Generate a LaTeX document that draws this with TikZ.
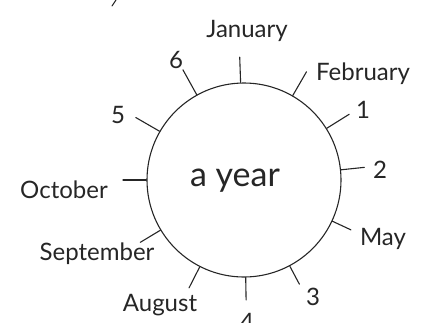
\documentclass[tikz,border=0pt]{standalone}
\usepackage{fontspec}
\setmainfont{Lato}
\begin{document}
\begin{tikzpicture}[x=1pt, y=-1pt, line width=1.1pt, draw=black!85,
  every node/.style={font=\fontsize{24}{26}\selectfont, text=black!85},
  tick/.style={line width=1.1pt, line cap=round}]
\useasboundingbox (0,0) rectangle (425,322);
% the year circle
\node[circle, draw, minimum size=194pt, inner sep=0pt] (yr) at (244,180) {};
\node[anchor=base, font=\fontsize{34}{36}\selectfont] (yrtxt) at (235,186) {a year};
% tick ends
\coordinate (tJan) at ([shift={(92:123pt)}]yr.center);
\coordinate (tFeb) at ([shift={(60:125pt)}]yr.center);
\coordinate (tOne) at ([shift={(32:124pt)}]yr.center);
\coordinate (tTwo) at ([shift={(6:121pt)}]yr.center);
\coordinate (tMay) at ([shift={(-25:118pt)}]yr.center);
\coordinate (tThree) at ([shift={(-62:118pt)}]yr.center);
\coordinate (tFour) at ([shift={(-89:120pt)}]yr.center);
\coordinate (tAug) at ([shift={(-117:121pt)}]yr.center);
\coordinate (tSep) at ([shift={(211:121pt)}]yr.center);
\coordinate (tOct) at ([shift={(180:121pt)}]yr.center);
\coordinate (tFive) at ([shift={(150:125pt)}]yr.center);
\coordinate (tSix) at ([shift={(119:126pt)}]yr.center);
% ticks
\draw[tick] (yr.92) -- (tJan);
\draw[tick] (yr.60) -- (tFeb);
\draw[tick] (yr.32) -- (tOne);
\draw[tick] (yr.6) -- (tTwo);
\draw[tick] (yr.-25) -- (tMay);
\draw[tick] (yr.-62) -- (tThree);
\draw[tick] (yr.-89) -- (tFour);
\draw[tick] (yr.-117) -- (tAug);
\draw[tick] (yr.211) -- (tSep);
\draw[tick] (yr.180) -- (tOct);
\draw[tick] (yr.150) -- (tFive);
\draw[tick] (yr.119) -- (tSix);
% labels
\node[anchor=base] (lJan) at (247,37) {January};
\node[anchor=base] (lFeb) at (363,80) {February};
\node[anchor=base] (lOne) at (363,118) {1};
\node[anchor=base] (lTwo) at (380,178) {2};
\node[anchor=base] (lMay) at (383,245) {May};
\node[anchor=base] (lThree) at (313,305) {3};
\node[anchor=base] (lFour) at (247,330) {4};
\node[anchor=base] (lAug) at (160,311) {August};
\node[anchor=base] (lSep) at (97,260) {September};
\node[anchor=base] (lOct) at (64,198) {October};
\node[anchor=base] (lFive) at (118,123) {5};
\node[anchor=base] (lSix) at (176,68) {6};
% stray stroke at the top edge
\draw[tick] (116,0) -- (112,6);
\end{tikzpicture}
\end{document}
